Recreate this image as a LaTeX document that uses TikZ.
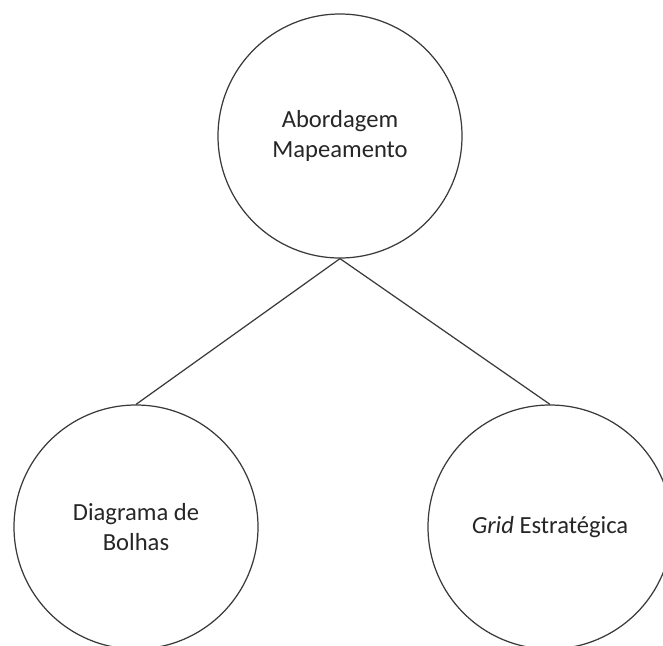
\documentclass[tikz,border=0pt]{standalone}
\usepackage{fontspec}
\setmainfont{Carlito}
\usepackage{xcolor}
\definecolor{cInk}{HTML}{3A3A3A}
\tikzset{
  bubble/.style={circle,draw=cInk,line width=0.7pt,fill=white,
                 minimum size=4.88cm,inner sep=0pt,align=center,
                 font=\fontsize{14}{17.5}\selectfont,text=black!85},
  link/.style  ={draw=cInk,line width=0.7pt},
}
\begin{document}
\begin{tikzpicture}
\useasboundingbox (0,0) rectangle (13.26,-12.9);
\node[bubble] (root)  at (6.8,-2.72)  {Abordagem\\Mapeamento};
\node[bubble] (bolha) at (2.72,-10.54) {Diagrama de\\Bolhas};
\node[bubble] (grid)  at (11.0,-10.54) {\textit{Grid} Estratégica};
\draw[link] (root.south) -- (bolha.north);
\draw[link] (root.south) -- (grid.north);
\end{tikzpicture}
\end{document}
